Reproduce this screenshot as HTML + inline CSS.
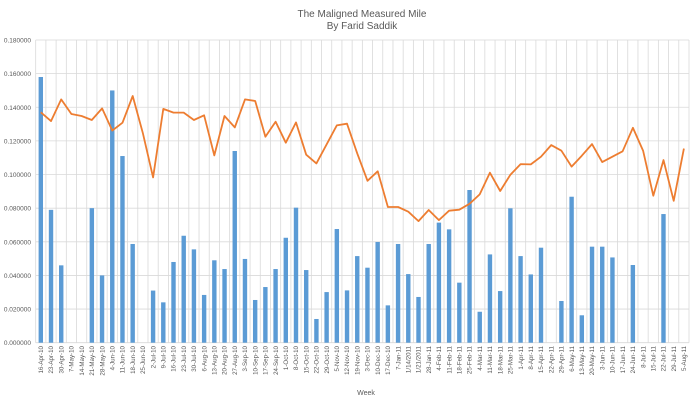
<!DOCTYPE html>
<html><head><meta charset="utf-8"><style>
html,body{margin:0;padding:0;background:#fff;}
svg{display:block;font-family:"Liberation Sans",sans-serif;}
</style></head><body>
<svg id="chart" width="698" height="400" viewBox="0 0 698 400">
<text x="362" y="17" text-anchor="middle" font-size="10" fill="#595959">The Maligned Measured Mile</text>
<text x="362" y="29" text-anchor="middle" font-size="10" fill="#595959">By Farid Saddik</text>
<text x="366" y="395" text-anchor="middle" font-size="7" fill="#595959">Week</text>
<g id="grid"></g><g id="bars"></g><g id="lines"></g><g id="ylab"></g><g id="xlab"></g>
</svg>
<script>
const categories=["16-Apr-10","23-Apr-10","30-Apr-10","7-May-10","14-May-10","21-May-10","28-May-10","4-Jun-10","11-Jun-10","18-Jun-10","25-Jun-10","2-Jul-10","9-Jul-10","16-Jul-10","23-Jul-10","30-Jul-10","6-Aug-10","13-Aug-10","20-Aug-10","27-Aug-10","3-Sep-10","10-Sep-10","17-Sep-10","24-Sep-10","1-Oct-10","8-Oct-10","15-Oct-10","22-Oct-10","29-Oct-10","5-Nov-10","12-Nov-10","19-Nov-10","3-Dec-10","10-Dec-10","17-Dec-10","7-Jan-11","1/14/2011","1/21/2011","28-Jan-11","4-Feb-11","11-Feb-11","18-Feb-11","25-Feb-11","4-Mar-11","11-Mar-11","18-Mar-11","25-Mar-11","1-Apr-11","8-Apr-11","15-Apr-11","22-Apr-11","29-Apr-11","6-May-11","13-May-11","20-May-11","3-Jun-11","10-Jun-11","17-Jun-11","24-Jun-11","8-Jul-11","15-Jul-11","22-Jul-11","29-Jul-11","5-Aug-11"];
const barValues=[0.158,0.079,0.046,null,null,0.080,0.040,0.150,0.111,0.0587,null,0.031,0.024,0.048,0.0636,0.0555,0.0284,0.049,0.0438,0.114,0.0498,0.0254,0.0331,0.0438,0.0624,0.0803,0.0432,0.0141,0.0301,0.0676,0.0311,0.0515,0.0446,0.0599,0.0222,0.0587,0.0408,0.0272,0.0587,0.0714,0.0674,0.0357,0.0908,0.0184,0.0525,0.0307,0.0799,0.0515,0.0406,0.0565,null,0.0248,0.0868,0.0163,0.0571,0.0571,0.0507,null,0.0462,null,null,0.0765,null,null];
const lineValues=[0.137,0.1318,0.1447,0.136,0.1348,0.1324,0.1393,0.1261,0.1308,0.1467,0.1245,0.0983,0.139,0.1368,0.1368,0.1324,0.1352,0.1114,0.1348,0.128,0.1447,0.1437,0.1225,0.1314,0.1189,0.131,0.1118,0.1066,0.1179,0.1292,0.1302,0.1126,0.0963,0.1019,0.0807,0.0807,0.0779,0.0723,0.0789,0.0729,0.0785,0.0791,0.0826,0.0882,0.1011,0.0902,0.0999,0.1062,0.106,0.1106,0.1175,0.1142,0.1047,0.1112,0.1181,0.1074,0.1106,0.1138,0.1278,0.1142,0.0874,0.1086,0.0844,0.1154];
const yTicks=[0,0.02,0.04,0.06,0.08,0.10,0.12,0.14,0.16,0.18];
const yTickLabels=["0.000000","0.020000","0.040000","0.060000","0.080000","0.100000","0.120000","0.140000","0.160000","0.180000"];

const NS="http://www.w3.org/2000/svg";
const L=35.7,R=689,T=40,B=342.7,YMAX=0.18;
const step=(R-L)/categories.length;
function xBand(i){return L+step*i;}
function xC(i){return L+step*(i+0.5);}
function yS(v){return B-(v/YMAX)*(B-T);}
function mk(tag,attrs,parent){const e=document.createElementNS(NS,tag);for(const k in attrs)e.setAttribute(k,attrs[k]);parent.appendChild(e);return e;}
const grid=document.getElementById('grid'),bars=document.getElementById('bars'),lines=document.getElementById('lines'),ylab=document.getElementById('ylab'),xlab=document.getElementById('xlab');
for(let i=0;i<=categories.length;i++){
  const g=mk('line',{x1:xBand(i),x2:xBand(i),y1:T,y2:B,stroke:'#d9d9d9','stroke-width':0.8},grid);
  
  
}
yTicks.forEach((v,i)=>{
  const g=mk('line',{x1:L,x2:R,y1:yS(v),y2:yS(v),stroke:'#d9d9d9','stroke-width':0.8},grid);
  
  
  const t=mk('text',{x:31,y:yS(v)+2.5,'text-anchor':'end','font-size':6.5,fill:'#595959'},ylab);
  t.textContent=yTickLabels[i];
  
  
});
barValues.forEach((v,i)=>{
  if(v==null)return;
  const b=mk('rect',{x:xC(i)-2.2,y:yS(v),width:4.4,height:B-yS(v),fill:'#5B9BD5'},bars);
  
  
});
const pts=lineValues.map((v,i)=>xC(i).toFixed(1)+','+yS(v).toFixed(1)).join(' ');
const pl=mk('polyline',{points:pts,fill:'none',stroke:'#ED7D31','stroke-width':1.8,'stroke-linejoin':'round'},lines);


categories.forEach((c,i)=>{
  const x=xC(i)+2.2,y=346;
  const t=mk('text',{x:x,y:y,transform:'rotate(-90 '+x+' '+y+')','text-anchor':'end','font-size':6.2,fill:'#595959'},xlab);
  t.textContent=c;
  
  
});
</script>
</body></html>
